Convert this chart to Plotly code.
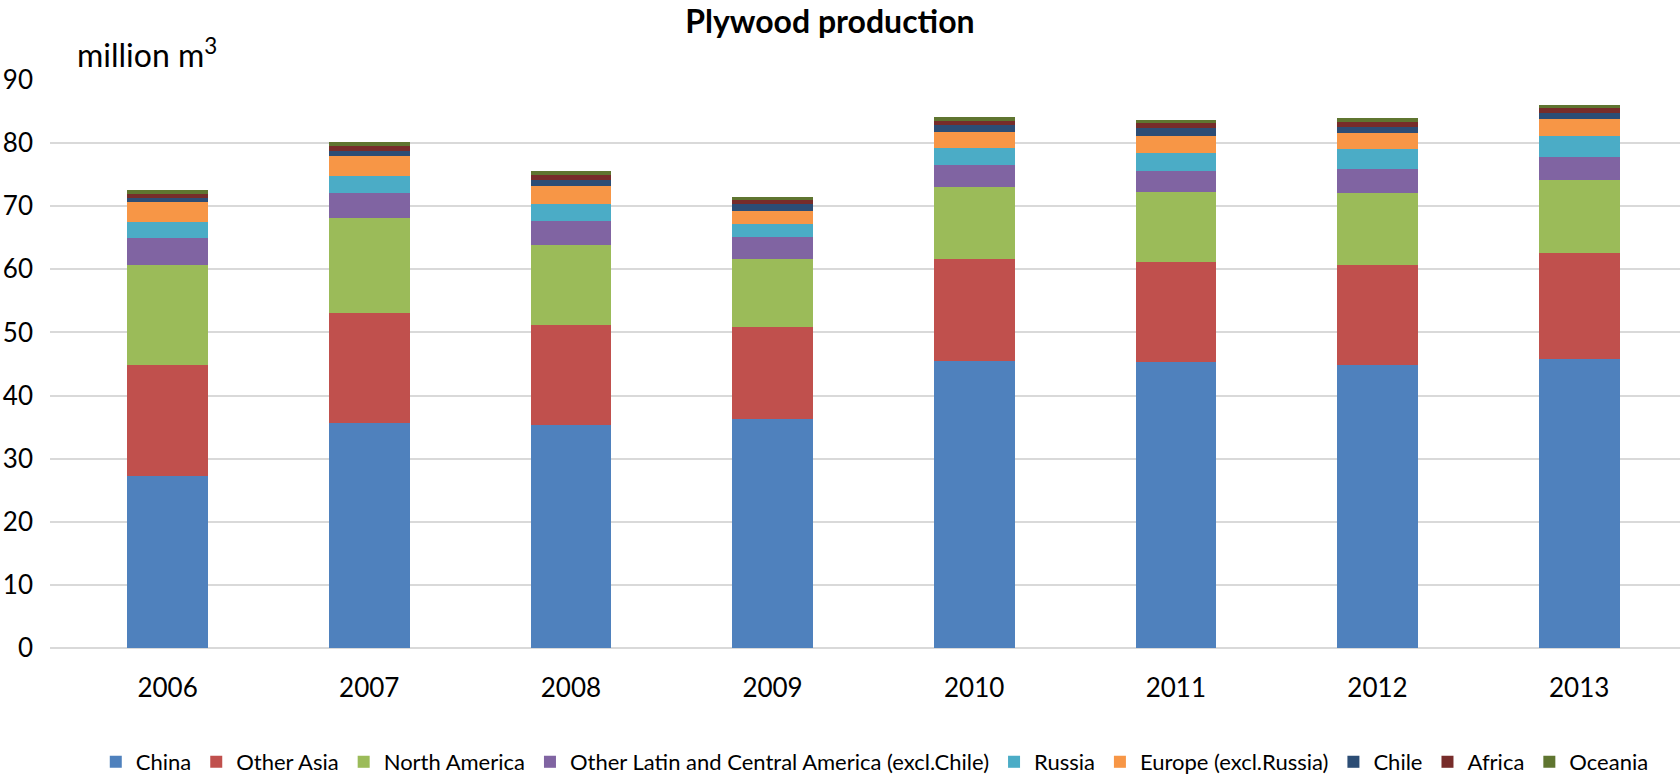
import plotly.graph_objects as go

years = ["2006", "2007", "2008", "2009", "2010", "2011", "2012", "2013"]

china         = [27.3, 35.6, 35.4, 36.3, 45.5, 45.3, 44.8, 45.8]
other_asia    = [17.5, 17.5, 15.8, 14.6, 16.1, 15.8, 15.9, 16.8]
north_america = [15.9, 15.1, 12.6, 10.8, 11.5, 11.1, 11.4, 11.5]
other_latam   = [4.2, 3.9, 3.85, 3.4, 3.4, 3.4, 3.8, 3.7]
russia        = [2.6, 2.7, 2.7, 2.1, 2.65, 2.85, 3.1, 3.3]
europe        = [3.1, 3.1, 2.8, 2.0, 2.55, 2.65, 2.6, 2.7]
chile         = [0.73, 0.8, 1.0, 1.08, 1.15, 1.3, 0.97, 0.9]
africa        = [0.64, 0.8, 0.8, 0.72, 0.7, 0.8, 0.8, 0.8]
oceania       = [0.63, 0.6, 0.6, 0.5, 0.55, 0.5, 0.58, 0.6]

series = [
    ("China", china, "#4F81BD"),
    ("Other Asia", other_asia, "#C0504D"),
    ("North America", north_america, "#9BBB59"),
    ("Other Latin and Central America (excl.Chile)", other_latam, "#8064A2"),
    ("Russia", russia, "#4BACC6"),
    ("Europe (excl.Russia)", europe, "#F79646"),
    ("Chile", chile, "#2C4D75"),
    ("Africa", africa, "#772C2A"),
    ("Oceania", oceania, "#5F7530"),
]

fig = go.Figure()
for name, vals, col in series:
    fig.add_trace(go.Bar(
        x=list(range(len(years))), y=vals, name=name,
        marker=dict(color=col, line=dict(width=0)),
        width=0.40,
    ))

FONT = "Lato"
fig.update_layout(
    barmode="stack",
    width=1680, height=774,
    paper_bgcolor="white", plot_bgcolor="white",
    margin=dict(l=50, r=0, t=80, b=126, autoexpand=False),
    font=dict(family=FONT, color="#000000"),
    title=dict(text="<b>Plywood production</b>", x=0.494, xanchor="center",
               y=0.972, yanchor="middle", font=dict(size=32, family=FONT)),
    xaxis=dict(
        tickmode="array", tickvals=list(range(len(years))), ticktext=years,
        range=[-0.583, 7.5], showgrid=False, zeroline=False, showline=False,
        ticks="", tickfont=dict(size=26), ticklabelstandoff=22,
    ),
    yaxis=dict(
        range=[0, 90], dtick=10, showgrid=True, gridcolor="#D9D9D9", gridwidth=1.5,
        zeroline=True, zerolinecolor="#D9D9D9", zerolinewidth=1.5,
        showline=False, ticks="", tickfont=dict(size=26), ticklabelstandoff=16,
    ),
    legend=dict(
        orientation="h", x=0.506, xanchor="center",
        yref="container", y=12 / 774, yanchor="middle",
        font=dict(size=22, family=FONT), itemwidth=30, traceorder="normal",
    ),
    showlegend=True,
    annotations=[dict(
        text="million m<sup>3</sup>", xref="paper", yref="paper",
        x=(75 - 50) / 1630, y=1.0, xanchor="left", yanchor="bottom",
        yshift=4, showarrow=False, font=dict(size=32, family=FONT),
    )],
)

fig.write_html("out.html")
